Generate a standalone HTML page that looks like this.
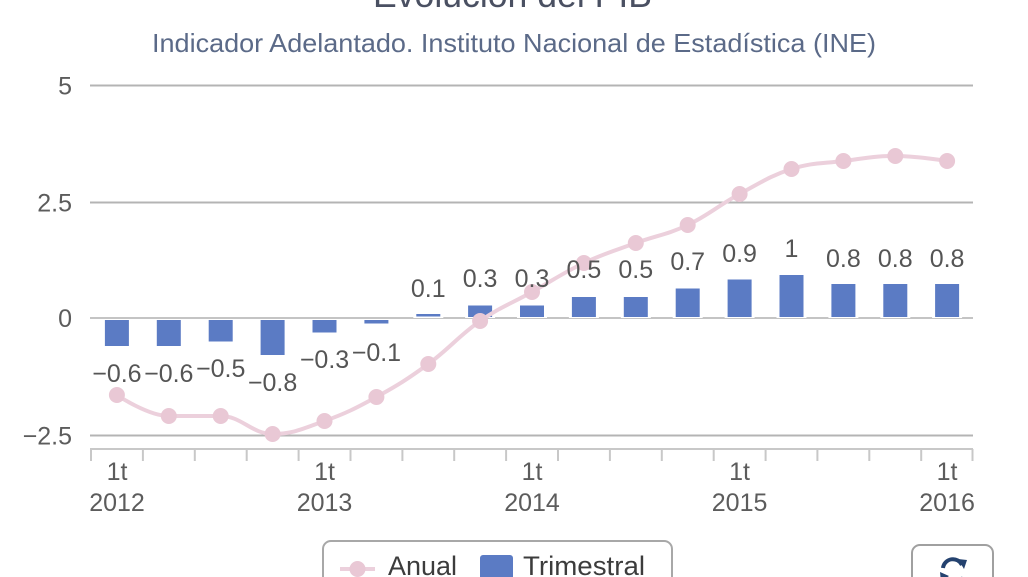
<!DOCTYPE html>
<html>
<head>
<meta charset="utf-8">
<style>
  html, body { margin: 0; padding: 0; background: #ffffff; }
  body { width: 1028px; height: 577px; overflow: hidden; }
  svg { display: block; }
  text { font-family: "Liberation Sans", Arial, sans-serif; }
</style>
</head>
<body>
<svg width="1028" height="577" viewBox="0 0 1028 577" xmlns="http://www.w3.org/2000/svg">
  <rect x="0" y="0" width="1028" height="577" fill="#ffffff"/>

  <!-- Title (cut off at top) -->
  <text x="512.5" y="7" font-size="36" fill="#4a5062" text-anchor="middle" textLength="279" lengthAdjust="spacingAndGlyphs">Evolución del PIB</text>
  <!-- Subtitle -->
  <text x="514" y="52" font-size="26" fill="#5b6a88" text-anchor="middle" textLength="724" lengthAdjust="spacingAndGlyphs">Indicador Adelantado. Instituto Nacional de Estadística (INE)</text>

  <!-- Grid lines -->
  <g stroke="#b4b4b4" stroke-width="2">
    <line x1="90" y1="85.5" x2="973" y2="85.5"/>
    <line x1="90" y1="202.5" x2="973" y2="202.5"/>
    <line x1="90" y1="435.5" x2="973" y2="435.5"/>
  </g>
  <line x1="90" y1="318" x2="973" y2="318" stroke="#c4c4c4" stroke-width="2"/>

  <!-- Y axis labels -->
  <g font-size="25" fill="#5c5c5c" text-anchor="end">
    <text x="72" y="94.5">5</text>
    <text x="72" y="211.5">2.5</text>
    <text x="72" y="327">0</text>
    <text x="72" y="444.5">−2.5</text>
  </g>

  <!-- X axis line and ticks -->
  <line x1="90" y1="449" x2="973" y2="449" stroke="#c8c8c8" stroke-width="2"/>
  <g stroke="#c8c8c8" stroke-width="2">
    <line x1="91" y1="449" x2="91" y2="461"/>
    <line x1="142.9" y1="449" x2="142.9" y2="461"/>
    <line x1="194.8" y1="449" x2="194.8" y2="461"/>
    <line x1="246.7" y1="449" x2="246.7" y2="461"/>
    <line x1="298.6" y1="449" x2="298.6" y2="461"/>
    <line x1="350.5" y1="449" x2="350.5" y2="461"/>
    <line x1="402.4" y1="449" x2="402.4" y2="461"/>
    <line x1="454.2" y1="449" x2="454.2" y2="461"/>
    <line x1="506.1" y1="449" x2="506.1" y2="461"/>
    <line x1="558" y1="449" x2="558" y2="461"/>
    <line x1="609.9" y1="449" x2="609.9" y2="461"/>
    <line x1="661.8" y1="449" x2="661.8" y2="461"/>
    <line x1="713.7" y1="449" x2="713.7" y2="461"/>
    <line x1="765.6" y1="449" x2="765.6" y2="461"/>
    <line x1="817.4" y1="449" x2="817.4" y2="461"/>
    <line x1="869.3" y1="449" x2="869.3" y2="461"/>
    <line x1="921.2" y1="449" x2="921.2" y2="461"/>
    <line x1="972.5" y1="449" x2="972.5" y2="461"/>
  </g>

  <!-- X axis labels -->
  <g font-size="25" fill="#5c5c5c" text-anchor="middle">
    <text x="117" y="480">1t</text><text x="117" y="511">2012</text>
    <text x="324.5" y="480">1t</text><text x="324.5" y="511">2013</text>
    <text x="532" y="480">1t</text><text x="532" y="511">2014</text>
    <text x="739.6" y="480">1t</text><text x="739.6" y="511">2015</text>
    <text x="947.1" y="480">1t</text><text x="947.1" y="511">2016</text>
  </g>

  <!-- Bars: white halo (border) then fill -->
  <g fill="#ffffff">
    <rect x="101.9" y="319" width="30" height="28"/>
    <rect x="153.8" y="319" width="30" height="28"/>
    <rect x="205.7" y="319" width="30" height="23.5"/>
    <rect x="257.6" y="319" width="30" height="37"/>
    <rect x="309.5" y="319" width="30" height="14.5"/>
    <rect x="361.4" y="319" width="30" height="5.5"/>
    <rect x="413.3" y="312.5" width="30" height="5.5"/>
    <rect x="465.1" y="304.5" width="30" height="13.5"/>
    <rect x="517" y="304.5" width="30" height="13.5"/>
    <rect x="568.9" y="296" width="30" height="22"/>
    <rect x="620.8" y="296" width="30" height="22"/>
    <rect x="672.7" y="287.5" width="30" height="30.5"/>
    <rect x="724.6" y="278.5" width="30" height="39.5"/>
    <rect x="776.5" y="274" width="30" height="44"/>
    <rect x="828.4" y="283" width="30" height="35"/>
    <rect x="880.3" y="283" width="30" height="35"/>
    <rect x="932.1" y="283" width="30" height="35"/>
  </g>
  <g fill="#5b7bc4">
    <rect x="104.9" y="320" width="24" height="26"/>
    <rect x="156.8" y="320" width="24" height="26"/>
    <rect x="208.7" y="320" width="24" height="21.5"/>
    <rect x="260.6" y="320" width="24" height="35"/>
    <rect x="312.5" y="320" width="24" height="12.5"/>
    <rect x="364.4" y="320" width="24" height="3.5"/>
    <rect x="416.3" y="314" width="24" height="2.5"/>
    <rect x="468.1" y="305.5" width="24" height="11.5"/>
    <rect x="520" y="305.5" width="24" height="11.5"/>
    <rect x="571.9" y="297" width="24" height="20"/>
    <rect x="623.8" y="297" width="24" height="20"/>
    <rect x="675.7" y="288.5" width="24" height="28.5"/>
    <rect x="727.6" y="279.5" width="24" height="37.5"/>
    <rect x="779.5" y="275" width="24" height="42"/>
    <rect x="831.4" y="284" width="24" height="33"/>
    <rect x="883.3" y="284" width="24" height="33"/>
    <rect x="935.1" y="284" width="24" height="33"/>
  </g>

  <!-- Anual spline line -->
  <path d="M116.9,395 C116.9,395 148.04,416 168.8,416 C189.56,416 199.94,416 220.7,416 C241.46,416 251.84,434 272.6,434 C293.36,434 303.74,428.4 324.5,421 C345.26,413.6 355.64,408.4 376.4,397 C397.16,385.6 407.54,379.2 428.3,364 C449.06,348.8 459.34,335.4 480.1,321 C500.86,306.6 511.24,303.6 532,292 C552.76,280.4 563.14,272.8 583.9,263 C604.66,253.2 615.04,250.6 635.8,243 C656.56,235.4 666.94,234.8 687.7,225 C708.46,215.2 718.84,205.2 739.6,194 C760.36,182.8 770.74,175.6 791.5,169 C812.26,162.4 822.64,163.6 843.4,161 C864.16,158.4 874.54,156 895.3,156 C916.06,156 947.1,161 947.1,161"
        fill="none" stroke="#ecd0dc" stroke-width="4" stroke-linejoin="round" stroke-linecap="round"/>
  <g fill="#e9c8d5">
    <circle cx="116.9" cy="395" r="8"/>
    <circle cx="168.8" cy="416" r="8"/>
    <circle cx="220.7" cy="416" r="8"/>
    <circle cx="272.6" cy="434" r="8"/>
    <circle cx="324.5" cy="421" r="8"/>
    <circle cx="376.4" cy="397" r="8"/>
    <circle cx="428.3" cy="364" r="8"/>
    <circle cx="480.1" cy="321" r="8"/>
    <circle cx="532" cy="292" r="8"/>
    <circle cx="583.9" cy="263" r="8"/>
    <circle cx="635.8" cy="243" r="8"/>
    <circle cx="687.7" cy="225" r="8"/>
    <circle cx="739.6" cy="194" r="8"/>
    <circle cx="791.5" cy="169" r="8"/>
    <circle cx="843.4" cy="161" r="8"/>
    <circle cx="895.3" cy="156" r="8"/>
    <circle cx="947.1" cy="161" r="8"/>
  </g>

  <!-- Data labels -->
  <g font-size="25" fill="#555555" text-anchor="middle">
    <text x="116.9" y="382">−0.6</text>
    <text x="168.8" y="382">−0.6</text>
    <text x="220.7" y="377">−0.5</text>
    <text x="272.6" y="391">−0.8</text>
    <text x="324.5" y="368">−0.3</text>
    <text x="376.4" y="361">−0.1</text>
    <text x="428.3" y="297">0.1</text>
    <text x="480.1" y="287">0.3</text>
    <text x="532" y="287">0.3</text>
    <text x="583.9" y="278">0.5</text>
    <text x="635.8" y="278">0.5</text>
    <text x="687.7" y="270">0.7</text>
    <text x="739.6" y="262">0.9</text>
    <text x="791.5" y="257">1</text>
    <text x="843.4" y="267">0.8</text>
    <text x="895.3" y="267">0.8</text>
    <text x="947.1" y="267">0.8</text>
  </g>

  <!-- Legend -->
  <rect x="323" y="541" width="349" height="60" rx="8" ry="8" fill="#ffffff" stroke="#a8a8a8" stroke-width="2"/>
  <line x1="340" y1="569" x2="375" y2="569" stroke="#ecd0dc" stroke-width="4"/>
  <circle cx="357.5" cy="569" r="8" fill="#e9c8d5"/>
  <text x="388" y="575" font-size="27" fill="#3c3c3c" textLength="69" lengthAdjust="spacingAndGlyphs">Anual</text>
  <rect x="480" y="555" width="33" height="33" rx="3" ry="3" fill="#5b7bc4"/>
  <text x="523" y="575" font-size="27" fill="#3c3c3c" textLength="122" lengthAdjust="spacingAndGlyphs">Trimestral</text>

  <!-- Refresh button -->
  <rect x="912" y="545" width="81" height="50" rx="8" ry="8" fill="#ffffff" stroke="#a0a0a0" stroke-width="2"/>
  <path d="M943,568 A10,10 0 0 1 962,565" fill="none" stroke="#24426f" stroke-width="4"/>
  <polygon points="958,559 967,560 964,569" fill="#24426f"/>
  <path d="M963,577 A10,10 0 0 1 944,580" fill="none" stroke="#24426f" stroke-width="4"/>
  <polygon points="940,572 949,576 941,582" fill="#24426f"/>
</svg>
</body>
</html>
